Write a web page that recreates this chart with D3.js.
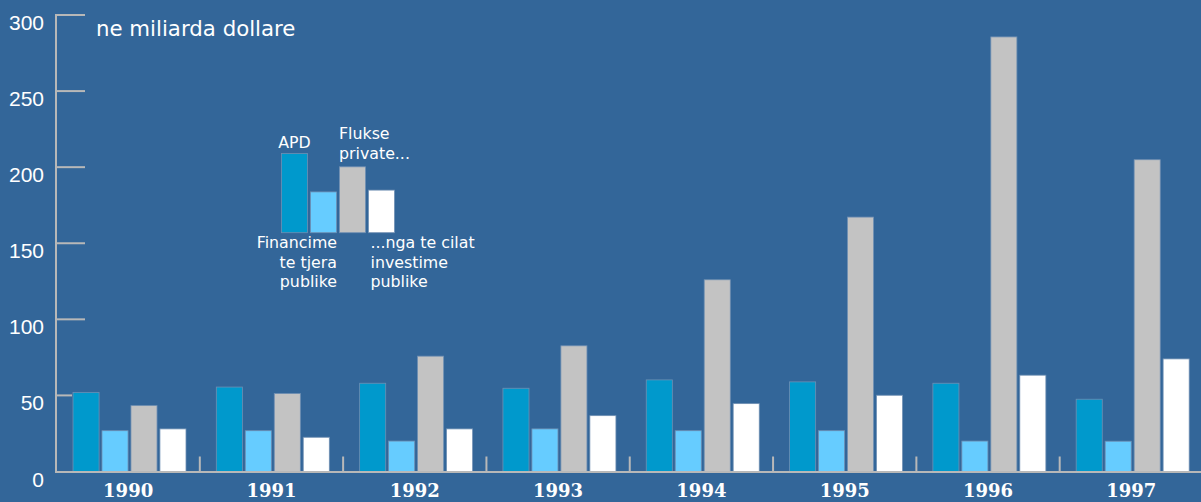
<!DOCTYPE html>
<html>
<head>
<meta charset="utf-8">
<script src="https://cdn.jsdelivr.net/npm/d3@7"></script>
<style>
html,body{margin:0;padding:0;background:#336699;overflow:hidden;}
svg{display:block;}
</style>
</head>
<body>
<script>
const years = ["1990","1991","1992","1993","1994","1995","1996","1997"];
const seriesKeys = ["APD","Financime te tjera publike","Flukse private","nga te cilat investime publike"];
const apd      = [52, 55.5, 58, 54.7, 60.2, 58.9, 58, 47.5];
const otherPub = [26.8, 26.8, 20, 28, 26.8, 26.8, 20, 19.9];
const privFlow = [43.3, 51.2, 75.8, 82.6, 126, 167.2, 285.6, 204.9];
const privInv  = [28, 22.5, 28, 36.7, 44.6, 50.1, 63.3, 74];
const yTicks = [0, 50, 100, 150, 200, 250, 300];
const colors = ["#0099cc", "#66ccff", "#c3c3c3", "#ffffff"];
const unitLabel = "ne miliarda dollare";

const W = 1201, H = 502;
const svg = d3.select("body").append("svg").attr("width", W).attr("height", H);
svg.append("rect").attr("width", W).attr("height", H).attr("fill", "#336699");

const series = [apd, otherPub, privFlow, privInv];
const data = years.map((yr, i) => ({year: yr, values: series.map(s => s[i])}));

const y = d3.scaleLinear().domain([0, 300]).range([471.5, 15]);
const x0 = d3.scaleBand().domain(years).range([56.5, 1203]).padding(0);
const x1 = d3.scaleBand().domain(d3.range(4)).range([16.5, 129.5]).paddingInner(0.1).paddingOuter(0);

const axisColor = "#b8b8b8";

// y axis line
svg.append("line").attr("x1", 56).attr("x2", 56).attr("y1", 14).attr("y2", y(0) + 1)
  .attr("stroke", axisColor).attr("stroke-width", 2);
// y ticks (inward)
svg.selectAll(".ytick").data(yTicks.filter(d => d > 0)).join("line")
  .attr("x1", 56).attr("x2", d => d === 50 ? 72 : 85)
  .attr("y1", d => y(d)).attr("y2", d => y(d))
  .attr("stroke", axisColor).attr("stroke-width", 2);
svg.selectAll(".ylab").data(yTicks).join("text")
  .attr("x", 44).attr("y", d => y(d) + 15)
  .attr("text-anchor", "end")
  .attr("font-family", "Liberation Sans, Arial, sans-serif")
  .attr("font-size", 21).attr("fill", "#ffffff")
  .text(d => d);

// bars
const g = svg.selectAll(".grp").data(data).join("g")
  .attr("transform", d => `translate(${x0(d.year)},0)`);
g.selectAll("rect").data(d => d.values).join("rect")
  .attr("x", (d, i) => x1(i))
  .attr("width", x1.bandwidth())
  .attr("y", d => y(d))
  .attr("height", d => y(0) - y(d))
  .attr("fill", (d, i) => colors[i])
  .attr("stroke", "#6f8fb3").attr("stroke-width", 0.8);

// x axis baseline
svg.append("line").attr("x1", 55).attr("x2", W).attr("y1", y(0) + 0.5).attr("y2", y(0) + 0.5)
  .attr("stroke", axisColor).attr("stroke-width", 2);
// group separators
svg.selectAll(".sep").data(years.slice(1)).join("line")
  .attr("x1", d => x0(d)).attr("x2", d => x0(d))
  .attr("y1", y(0)).attr("y2", y(0) - 15)
  .attr("stroke", axisColor).attr("stroke-width", 2);
// year labels
svg.selectAll(".xlab").data(years).join("text")
  .attr("x", d => x0(d) + x0.bandwidth() / 2)
  .attr("y", 497)
  .attr("text-anchor", "middle")
  .attr("font-family", "DejaVu Serif, serif")
  .attr("font-weight", "bold")
  .attr("font-size", 18).attr("fill", "#ffffff")
  .text(d => d);

// unit label
svg.append("text").attr("x", 96).attr("y", 36)
  .attr("font-family", "DejaVu Sans, Verdana, sans-serif")
  .attr("font-size", 21.3).attr("fill", "#ffffff")
  .text(unitLabel);

// legend: miniature of first group
const legendShift = 232.7 - y(0);
const legendX = 281.5 - x1(0);
const lg = svg.append("g").attr("transform", `translate(${legendX},${legendShift})`);
lg.selectAll("rect").data(data[0].values).join("rect")
  .attr("x", (d, i) => x1(i))
  .attr("width", x1.bandwidth())
  .attr("y", d => y(d))
  .attr("height", d => y(0) - y(d))
  .attr("fill", (d, i) => colors[i])
  .attr("stroke", "#6f8fb3").attr("stroke-width", 0.8);

const lf = {family: "DejaVu Sans, Verdana, sans-serif", size: 15.8};
function ltext(x, yy, anchor, lines) {
  const t = svg.append("text").attr("x", x).attr("y", yy)
    .attr("text-anchor", anchor)
    .attr("font-family", lf.family).attr("font-size", lf.size).attr("fill", "#ffffff");
  lines.forEach((ln, i) => t.append("tspan").attr("x", x).attr("dy", i === 0 ? 0 : 19.5).text(ln));
}
ltext(294.5, 148, "middle", ["APD"]);
ltext(339, 139, "start", ["Flukse", "private..."]);
ltext(337, 248, "end", ["Financime", "te tjera", "publike"]);
ltext(370.5, 248, "start", ["...nga te cilat", "investime", "publike"]);
</script>
</body>
</html>
